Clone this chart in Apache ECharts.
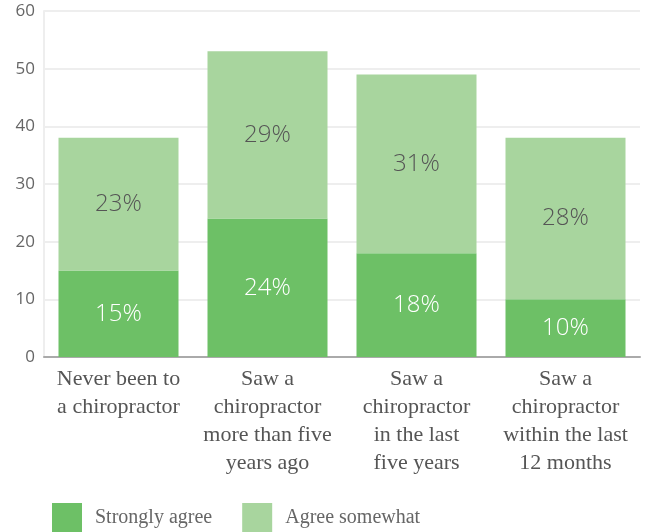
<!DOCTYPE html>
<html>
<head>
<meta charset="utf-8">
<script src="https://cdn.jsdelivr.net/npm/echarts@6/dist/echarts.min.js"></script>
<style>
  html, body { margin: 0; padding: 0; background: #fff; }
  #chart { width: 652px; height: 532px; }
</style>
</head>
<body>
<div id="chart"></div>
<script>
const categories = [
  "Never been to\na chiropractor",
  "Saw a\nchiropractor\nmore than five\nyears ago",
  "Saw a\nchiropractor\nin the last\nfive years",
  "Saw a\nchiropractor\nwithin the last\n12 months",
];
const stronglyAgree = [15, 24, 18, 10];
const agreeSomewhat = [23, 29, 31, 28];
const yTicks = { min: 0, max: 60, interval: 10 };

const serif = "'Liberation Serif', 'DejaVu Serif', serif";
const sans = "'Open Sans', 'Liberation Sans', sans-serif";

const chart = echarts.init(document.getElementById("chart"));
const option = {
  animation: false,
  grid: { left: 44, right: 12, top: 11, bottom: 175 },
  legend: {
    left: 52,
    top: 503,
    padding: 0,
    itemWidth: 30,
    itemHeight: 29,
    itemGap: 30,
    icon: "rect",
    textStyle: { fontFamily: serif, fontSize: 20, color: "#666", padding: [4, 0, 0, 8] },
    data: ["Strongly agree", "Agree somewhat"],
  },
  xAxis: {
    type: "category",
    data: categories,
    axisTick: { show: false },
    axisLine: { lineStyle: { color: "#aaa", width: 2 } },
    axisLabel: {
      interval: 0,
      margin: 8,
      fontFamily: serif,
      fontSize: 22,
      lineHeight: 28,
      color: "#555",
    },
  },
  yAxis: {
    type: "value",
    min: yTicks.min,
    max: yTicks.max,
    interval: yTicks.interval,
    axisLine: { show: true, lineStyle: { color: "#eee", width: 2 } },
    axisTick: { show: false },
    splitLine: { lineStyle: { color: "#eee", width: 2 } },
    axisLabel: {
      fontFamily: sans,
      fontSize: 17,
      color: "#666",
      margin: 9,
    },
  },
  series: [
    {
      name: "Strongly agree",
      type: "bar",
      stack: "total",
      barWidth: 120,
      data: stronglyAgree,
      itemStyle: { color: "#6dc066" },
      label: {
        show: true,
        position: "inside",
        formatter: "{c}%",
        fontFamily: sans,
        fontWeight: 300,
        fontSize: 24,
        color: "#fff",
      },
    },
    {
      name: "Agree somewhat",
      type: "bar",
      stack: "total",
      barWidth: 120,
      data: agreeSomewhat,
      itemStyle: { color: "#a8d59e" },
      label: {
        show: true,
        position: "inside",
        formatter: "{c}%",
        fontFamily: sans,
        fontWeight: 300,
        fontSize: 24,
        color: "#555",
      },
    },
  ],
};
chart.setOption(option);
</script>
</body>
</html>
